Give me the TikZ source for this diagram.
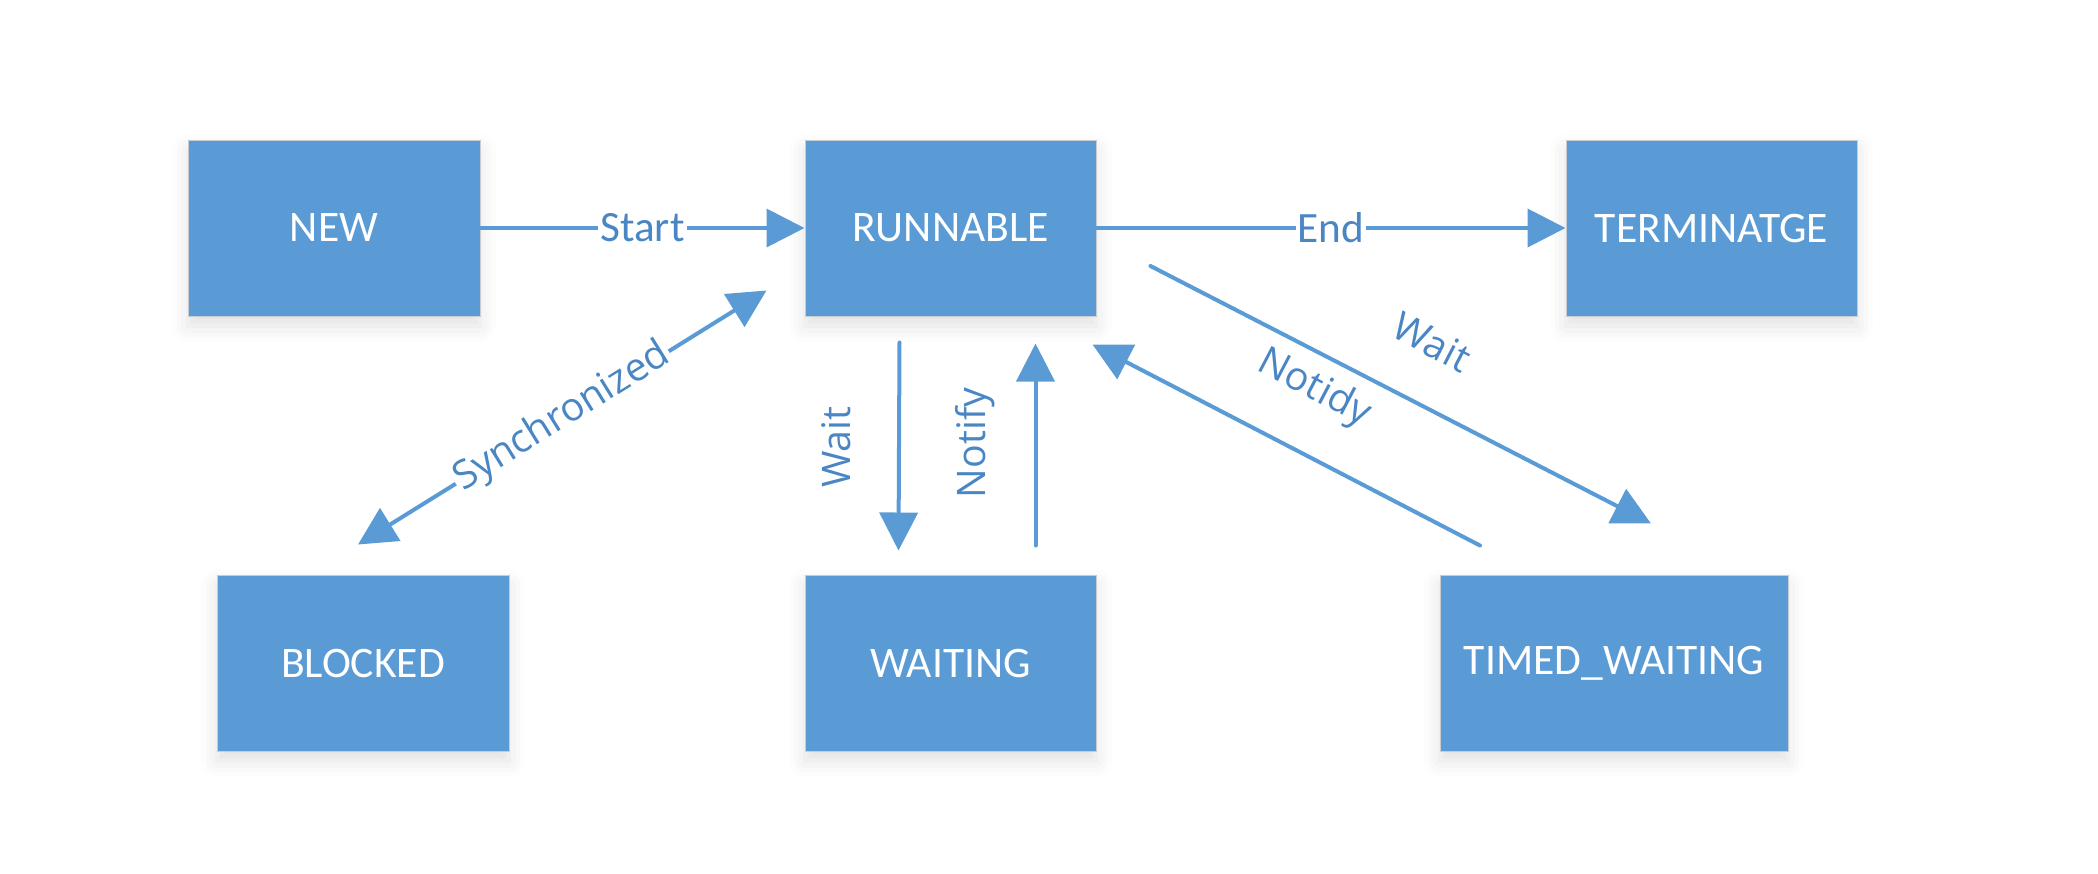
\documentclass[tikz,border=0pt]{standalone}
\usepackage{fontspec}
\newfontfamily\boxfont{Carlito}
\newfontfamily\lblfont{Open Sans}
\usepackage{tikz}
\usetikzlibrary{
  arrows.meta,
  shadows.blur,
  calc
}
\definecolor{statefill}{HTML}{5B9BD5}
\definecolor{stateedge}{HTML}{C8CDD3}
\definecolor{flowtext}{HTML}{4A86C4}
\colorlet{flow}{statefill}
\tikzset{
  statebox/.style={draw=stateedge, line width=0.1mm, fill=statefill, text=white,
    minimum height=17.6mm, inner sep=0pt,
    font=\boxfont\fontsize{12.4}{14}\selectfont,
    blur shadow={shadow xshift=0mm, shadow yshift=-1mm, shadow blur radius=1.6mm, shadow opacity=12}},
  flowline/.style={draw=flow, line width=0.4mm, line cap=round,
    -{Triangle[length=3.8mm, width=3.8mm]}},
  edgelbl/.style={fill=white, inner sep=0.6pt, text=flowtext,
    font=\boxfont\fontsize{12.3}{14}\selectfont},
  lbltext/.style={inner sep=0pt, text=flowtext,
    font=\lblfont\fontsize{11.2}{13}\selectfont},
}

\begin{document}
\begin{tikzpicture}[x=0.1mm, y=-0.1mm]
\useasboundingbox (0,0) rectangle (2098,873);
\foreach \nm/\x/\y/\w/\txt in {new/334/228/29.2/NEW, run/950.5/228/29.1/RUNNABLE,
  term/1711.5/228/29.1/TERMINATGE, blk/363/663/29.2/BLOCKED,
  wt/950.5/663/29.1/WAITING, tw/1614/663/34.8/TIMED\_WAITING}
{
  \node[statebox, minimum width=\w mm] (\nm) at (\x,\y) {\txt};
}
\draw[flowline] (new) -- node[edgelbl] {Start} (run);
\draw[flowline] (run) -- node[edgelbl] {End} (term);
\draw[flowline, {Triangle[length=3.8mm, width=3.8mm]}-{Triangle[length=3.8mm, width=3.8mm]}]
  ($(blk.north)+(-5,-30)$) -- node[edgelbl, lbltext, fill=white, inner sep=0.6pt, sloped] {Synchronized}
  ($(run.south west)+(-38,-26)$);
\draw[flowline] ($(run.south)+(-51,26)$) -- ($(wt.north)+(-52,-24)$);
\draw[flowline] ($(wt.north)+(85,-29)$) -- ($(run.south)+(85,27)$);
\draw[flowline] ($(run.east)+(54,38)$) -- ($(tw.north)+(37,-51)$);
\draw[flowline] ($(tw.north)+(-134,-29)$) -- ($(run.south east)+(-4,28)$);
% labels of the free lines
\node[lbltext, rotate=90, anchor=base] (lwait) at (850,447) {Wait};
\node[lbltext, rotate=90, anchor=base] (lnotify) at (985,443) {Notify};
\node[lbltext, rotate=-27.4] (ltwait) at (1432,342) {Wait};
\node[lbltext, rotate=-27.7] (lnotidy) at (1314,389) {Notidy};
\end{tikzpicture}
\end{document}
